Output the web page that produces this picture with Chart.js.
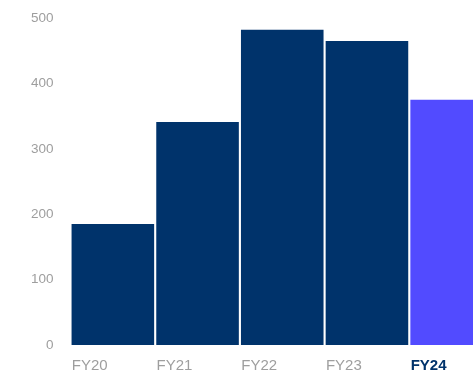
<!DOCTYPE html>
<html>
<head>
<meta charset="utf-8">
<script src="https://cdn.jsdelivr.net/npm/chart.js@4"></script>
<style>
  html, body { margin: 0; padding: 0; background: #fff; overflow: hidden; }
  #wrap { width: 500px; height: 371px; position: relative; }
</style>
</head>
<body>
<div id="wrap"><canvas id="chartFY"></canvas></div>
<script>
const labels = ["FY20", "FY21", "FY22", "FY23", "FY24"];
const values = [185, 341, 482, 465, 375];
const yTicks = [0, 100, 200, 300, 400, 500];

const navy = "#00336b";
const violet = "#524bff";
const grey = "#9e9e9e";

const chartFY = new Chart(document.getElementById("chartFY"), {
  type: "bar",
  data: {
    labels: labels,
    datasets: [
      {
        data: values,
        backgroundColor: labels.map((l, i) => (i === labels.length - 1 ? violet : navy)),
        barPercentage: 0.975,
        categoryPercentage: 1,
      },
    ],
  },
  options: {
    responsive: true,
    maintainAspectRatio: false,
    animation: false,
    layout: { padding: { top: 18, right: 5, left: 0, bottom: 0 } },
    plugins: { legend: { display: false }, tooltip: { enabled: false } },
    scales: {
      x: {
        grid: { display: false, drawTicks: false },
        border: { display: false },
        ticks: {
          align: "start",
          labelOffset: -41,
          padding: 12,
          maxRotation: 0,
          autoSkip: false,
          font: (ctx) => ({
            family: "'Liberation Sans', Arial, sans-serif",
            size: 15,
            weight: ctx.index === labels.length - 1 ? "bold" : "normal",
          }),
          color: (ctx) => (ctx.index === labels.length - 1 ? navy : grey),
        },
        afterFit: (scale) => {
          scale.height = 26;
        },
      },
      y: {
        min: yTicks[0],
        max: yTicks[yTicks.length - 1],
        grid: { display: false, drawTicks: false },
        border: { display: false },
        afterBuildTicks: (scale) => {
          scale.ticks = yTicks.map((v) => ({ value: v }));
        },
        ticks: {
          padding: 17,
          font: { family: "'Liberation Sans', Arial, sans-serif", size: 13.5 },
          color: grey,
        },
        afterFit: (scale) => {
          scale.width = 70.5;
          scale.paddingTop = 0;
          scale.paddingBottom = 0;
        },
      },
    },
  },
});
</script>
</body>
</html>
